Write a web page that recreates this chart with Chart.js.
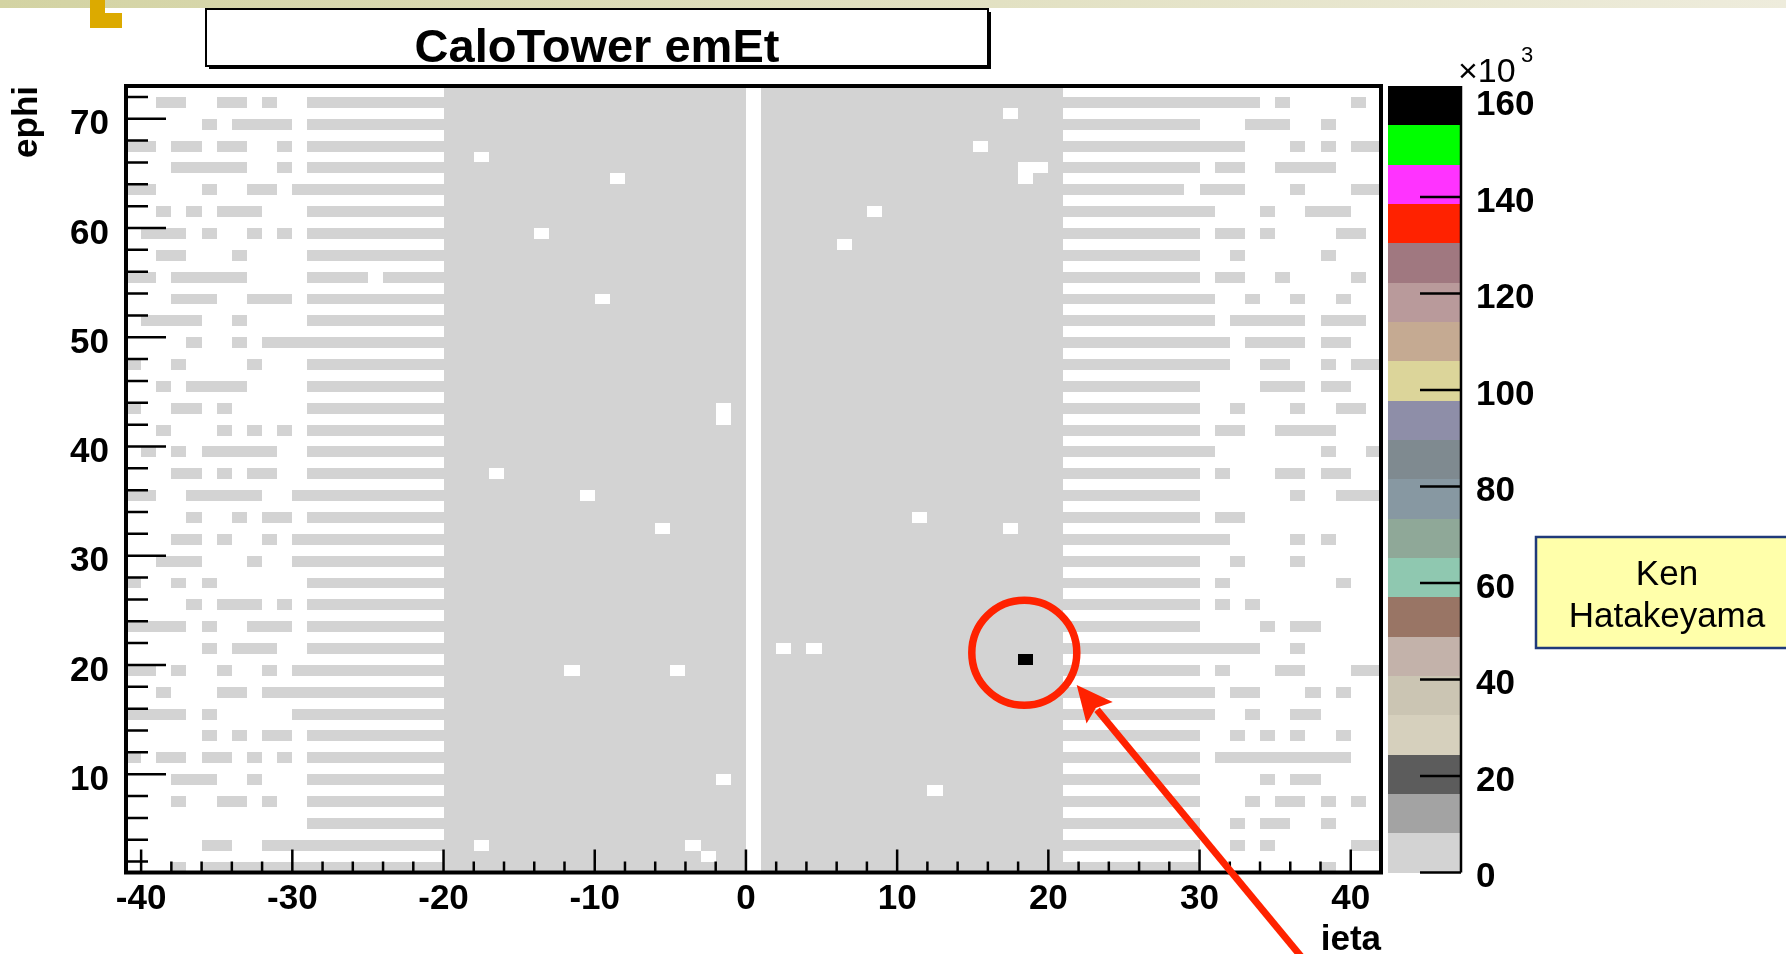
<!DOCTYPE html>
<html>
<head>
<meta charset="utf-8">
<script src="https://cdn.jsdelivr.net/npm/chart.js@4.4.0/dist/chart.umd.min.js"></script>
<style>
  html, body { margin: 0; padding: 0; background: #fff; overflow: hidden; }
  #wrap { width: 1786px; height: 954px; }
</style>
</head>
<body>
<div id="wrap"><canvas id="calo" width="1786" height="954"></canvas></div>
<script>
// axis ticks
const xTicks = [-40, -30, -20, -10, 0, 10, 20, 30, 40];
const yTicks = [10, 20, 30, 40, 50, 60, 70];
const zTicks = [0, 20, 40, 60, 80, 100, 120, 140, 160];
const zMax = 163;        // x10^3, top of the palette (hottest tower)
const towerLevel = 2;    // x10^3, normal towers sit in the lowest colour band

// forward towers (|ieta| > 20) only live on odd ephi rows
const phiRows = [71, 69, 67, 65, 63, 61, 59, 57, 55, 53, 51, 49, 47, 45, 43, 41, 39, 37,
                 35, 33, 31, 29, 27, 25, 23, 21, 19, 17, 15, 13, 11, 9, 7, 5, 3, 1];

// filled ieta ranges per row, negative side
const minusRanges = [
  [[-39,-38],[-35,-34],[-32,-32],[-29,-21]],
  [[-36,-36],[-34,-31],[-29,-21]],
  [[-41,-40],[-38,-37],[-35,-34],[-31,-31],[-29,-21]],
  [[-38,-34],[-31,-31],[-29,-21]],
  [[-41,-40],[-36,-36],[-33,-32],[-30,-21]],
  [[-39,-39],[-37,-37],[-35,-33],[-29,-21]],
  [[-40,-38],[-36,-36],[-33,-33],[-31,-31],[-29,-21]],
  [[-39,-38],[-34,-34],[-29,-21]],
  [[-41,-40],[-38,-34],[-29,-26],[-24,-21]],
  [[-38,-36],[-33,-31],[-29,-21]],
  [[-40,-37],[-34,-34],[-29,-21]],
  [[-37,-37],[-34,-34],[-32,-21]],
  [[-41,-41],[-38,-38],[-33,-33],[-29,-21]],
  [[-39,-39],[-37,-34],[-29,-21]],
  [[-41,-41],[-38,-37],[-35,-35],[-29,-21]],
  [[-39,-39],[-35,-35],[-33,-33],[-31,-31],[-29,-21]],
  [[-40,-40],[-38,-38],[-36,-32],[-29,-21]],
  [[-38,-37],[-35,-35],[-33,-32],[-29,-21]],
  [[-41,-40],[-37,-33],[-30,-21]],
  [[-37,-37],[-34,-34],[-32,-31],[-29,-21]],
  [[-38,-37],[-35,-35],[-32,-32],[-30,-21]],
  [[-39,-37],[-33,-33],[-30,-21]],
  [[-41,-41],[-38,-38],[-36,-36],[-29,-21]],
  [[-37,-37],[-35,-33],[-31,-31],[-29,-21]],
  [[-41,-38],[-36,-36],[-33,-31],[-29,-21]],
  [[-36,-36],[-34,-32],[-29,-21]],
  [[-41,-40],[-38,-38],[-35,-35],[-32,-32],[-30,-21]],
  [[-39,-39],[-35,-34],[-32,-21]],
  [[-41,-38],[-36,-36],[-30,-21]],
  [[-36,-36],[-34,-34],[-32,-31],[-29,-21]],
  [[-41,-41],[-39,-38],[-36,-35],[-33,-33],[-31,-31],[-29,-21]],
  [[-38,-36],[-33,-33],[-29,-21]],
  [[-38,-38],[-35,-34],[-32,-32],[-29,-21]],
  [[-29,-21]],
  [[-36,-35],[-32,-21]],
  [[-38,-38],[-36,-21]]
];

// filled ieta ranges per row, positive side
const plusRanges = [
  [[21,33],[35,35],[40,40]],
  [[21,29],[33,35],[38,38]],
  [[21,32],[36,36],[38,38],[40,41]],
  [[21,29],[31,32],[35,38]],
  [[21,28],[30,32],[36,36],[40,41]],
  [[21,30],[34,34],[37,39]],
  [[21,29],[31,32],[34,34],[39,40]],
  [[21,29],[32,32],[38,38]],
  [[21,29],[31,32],[35,35],[40,40]],
  [[21,30],[33,33],[36,36],[39,39]],
  [[21,30],[32,36],[38,40]],
  [[21,31],[33,36],[38,39]],
  [[21,31],[34,35],[38,38],[40,41]],
  [[21,29],[34,36],[38,39]],
  [[21,29],[32,32],[36,36],[39,40]],
  [[21,29],[31,32],[35,38]],
  [[21,30],[38,38],[41,41]],
  [[21,29],[31,31],[35,36],[38,39]],
  [[21,29],[36,36],[39,41]],
  [[21,29],[31,32]],
  [[21,31],[36,36],[38,38]],
  [[21,29],[32,32],[36,36]],
  [[21,29],[31,31],[39,39]],
  [[21,29],[31,31],[33,33]],
  [[21,29],[34,34],[36,37]],
  [[21,33],[36,36]],
  [[21,29],[31,31],[35,36],[40,41]],
  [[21,30],[32,33],[37,37],[39,39]],
  [[21,30],[33,33],[36,37]],
  [[21,29],[32,32],[34,34],[36,36],[39,39]],
  [[21,29],[31,39]],
  [[21,29],[34,34],[36,37]],
  [[21,29],[33,33],[35,36],[38,38],[40,40]],
  [[21,29],[32,32],[34,35],[38,38]],
  [[21,29],[32,32],[34,34],[40,41]],
  [[21,29],[38,38]]
];

// barrel/endcap (|ieta| <= 20): every tower filled except these [ieta, ephi]
const centralEmpty = [
  [-18,66],[-9,64],[-14,59],[-10,53],[-2,43],[-2,42],[-17,37],[-11,35],[-6,32],
  [-12,19],[-5,19],[-2,9],[-18,3],[-4,3],[-3,2],
  [17,70],[15,67],[18,65],[19,65],[18,64],[8,61],[6,58],[11,33],[17,32],
  [2,21],[4,21],[12,8]
];

// [ieta, ephi, emEt x10^3]
const hotTowers = [[18, 20, 163]];

// ROOT palette, lowest band first
const palette = [
  '#d3d3d3', '#a3a3a3', '#5c5c5c', '#d6d0bd', '#cbc5b3', '#c3b2aa', '#997565',
  '#8fc8b0', '#8fa898', '#8798a2', '#7f8a90', '#8e8ea8', '#dcd59a', '#c5aa92',
  '#b99a9b', '#a07880', '#ff2200', '#ff33ff', '#00ff00', '#000000'
];

const cells = [];
phiRows.forEach((phi, i) => {
  [...minusRanges[i], ...plusRanges[i]].forEach(([a, b]) => {
    for (let e = a; e <= b; e++) cells.push({ x: e, y: phi, v: towerLevel });
  });
});
const emptyKeys = new Set(centralEmpty.map(c => c[0] + ':' + c[1]));
for (let phi = 1; phi <= 72; phi++) {
  for (let e = -20; e <= 20; e++) {
    if (e === 0 || emptyKeys.has(e + ':' + phi)) continue;
    const hot = hotTowers.find(h => h[0] === e && h[1] === phi);
    cells.push({ x: e, y: phi, v: hot ? hot[2] : towerLevel });
  }
}

const FONT = '"Liberation Sans", Arial, Helvetica, sans-serif';
const RED = '#ff2200';

function setTicks(list) {
  return s => { s.ticks = list.map(v => ({ value: v })); };
}
// fixed box sizes, no label overhang padding
function fixSize(w, h) {
  return s => {
    if (w !== null) s.width = w;
    if (h !== null) s.height = h;
    s.paddingTop = 0; s.paddingBottom = 0; s.paddingLeft = 0; s.paddingRight = 0;
  };
}

const slidePlugin = {
  id: 'slide',
  beforeDraw(chart) {
    const ctx = chart.ctx;
    ctx.save();
    ctx.fillStyle = '#fff';
    ctx.fillRect(0, 0, chart.width, chart.height);
    const g = ctx.createLinearGradient(0, 0, chart.width, 0);
    g.addColorStop(0, '#d3d3a3');
    g.addColorStop(1, '#eeecdc');
    ctx.fillStyle = g;
    ctx.fillRect(0, 0, chart.width, 8);
    ctx.fillStyle = '#dcaa00';
    ctx.fillRect(90, 0, 15, 14);
    ctx.fillRect(90, 13, 32, 15);
    ctx.restore();
  }
};

const cellPlugin = {
  id: 'cells',
  beforeDatasetsDraw(chart) {
    const { ctx, chartArea: a, scales: { x, y } } = chart;
    const band = zMax / palette.length;
    ctx.save();
    ctx.beginPath();
    ctx.rect(a.left, a.top, a.right - a.left, a.bottom - a.top);
    ctx.clip();
    chart.data.datasets[0].data.forEach(c => {
      const x0 = Math.round(x.getPixelForValue(c.x));
      const x1 = Math.round(x.getPixelForValue(c.x + 1));
      const y0 = Math.round(y.getPixelForValue(c.y + 1));
      const y1 = Math.round(y.getPixelForValue(c.y));
      ctx.fillStyle = palette[Math.min(palette.length - 1, Math.floor(c.v / band))];
      ctx.fillRect(x0, y0, x1 - x0, y1 - y0);
    });
    ctx.restore();
  }
};

const framePlugin = {
  id: 'frame',
  afterDatasetsDraw(chart) {
    const { ctx, chartArea: a, scales: { x, y, z } } = chart;
    ctx.save();
    ctx.strokeStyle = '#000';
    ctx.lineWidth = 2.5;
    ctx.beginPath();
    for (let v = -40; v <= 40; v += 2) {
      const px = x.getPixelForValue(v);
      const len = v % 10 === 0 ? 23 : 11;
      ctx.moveTo(px, a.bottom); ctx.lineTo(px, a.bottom - len);
    }
    for (let v = 2; v <= 72; v += 2) {
      const py = y.getPixelForValue(v);
      const len = v % 10 === 0 ? 40 : 22;
      ctx.moveTo(a.left, py); ctx.lineTo(a.left + len, py);
    }
    ctx.stroke();
    ctx.lineWidth = 4;
    ctx.strokeRect(a.left, a.top, a.right - a.left, a.bottom - a.top);

    // palette
    const cbL = 1388, cbR = 1461;
    const band = zMax / palette.length;
    palette.forEach((col, i) => {
      const yb = Math.round(z.getPixelForValue(i * band));
      const yt = Math.round(z.getPixelForValue((i + 1) * band));
      ctx.fillStyle = col;
      ctx.fillRect(cbL, yt, cbR - cbL, yb - yt);
    });
    ctx.lineWidth = 2.5;
    ctx.beginPath();
    ctx.moveTo(cbR, z.getPixelForValue(zMax));
    ctx.lineTo(cbR, z.getPixelForValue(0));
    zTicks.forEach(v => {
      const py = z.getPixelForValue(v);
      ctx.moveTo(cbR, py); ctx.lineTo(cbR - 41, py);
    });
    ctx.stroke();
    ctx.restore();
  },
  afterDraw(chart) {
    const ctx = chart.ctx;
    ctx.save();
    // x10^3
    ctx.fillStyle = '#000';
    ctx.textBaseline = 'alphabetic';
    ctx.textAlign = 'left';
    ctx.font = '34px ' + FONT;
    ctx.fillText('\u00d710', 1458, 82);
    ctx.font = '22px ' + FONT;
    ctx.fillText('3', 1521, 62);

    // title box
    ctx.fillStyle = '#000';
    ctx.fillRect(209, 12, 782, 57);
    ctx.fillStyle = '#fff';
    ctx.fillRect(206, 9, 782, 57);
    ctx.strokeStyle = '#000';
    ctx.lineWidth = 2;
    ctx.strokeRect(206, 9, 782, 57);
    ctx.fillStyle = '#000';
    ctx.font = 'bold 47px ' + FONT;
    ctx.textAlign = 'center';
    ctx.fillText('CaloTower emEt', 597, 62);

    // name box
    ctx.fillStyle = '#ffffaa';
    ctx.fillRect(1536, 537, 260, 111);
    ctx.strokeStyle = '#1f3a7a';
    ctx.lineWidth = 2.5;
    ctx.strokeRect(1536, 537, 260, 111);
    ctx.fillStyle = '#000';
    ctx.font = '35px ' + FONT;
    ctx.fillText('Ken', 1667, 585);
    ctx.fillText('Hatakeyama', 1667, 627);

    // hot tower marker
    ctx.strokeStyle = RED;
    ctx.lineWidth = 7.5;
    ctx.beginPath();
    ctx.arc(1024.3, 652.8, 52.5, 0, Math.PI * 2);
    ctx.stroke();

    // arrow
    const tip = [1076.7, 685], tail = [1304, 960];
    const dx = tip[0] - tail[0], dy = tip[1] - tail[1];
    const L = Math.hypot(dx, dy), ux = dx / L, uy = dy / L;
    const hl = 36, hw = 17;
    const bx = tip[0] - ux * hl, by = tip[1] - uy * hl;
    ctx.lineWidth = 7;
    ctx.beginPath();
    ctx.moveTo(tail[0], tail[1]);
    ctx.lineTo(bx + ux * 4, by + uy * 4);
    ctx.stroke();
    ctx.fillStyle = RED;
    ctx.beginPath();
    ctx.moveTo(tip[0], tip[1]);
    ctx.lineTo(bx - uy * hw, by + ux * hw);
    ctx.lineTo(bx + ux * 6, by + uy * 6);
    ctx.lineTo(bx + uy * hw, by - ux * hw);
    ctx.closePath();
    ctx.fill();
    ctx.restore();
  }
};

const tickFont = { family: FONT, size: 35, weight: 'bold' };

new Chart(document.getElementById('calo'), {
  type: 'scatter',
  data: {
    datasets: [{ label: 'emEt', data: cells, pointRadius: 0, pointHoverRadius: 0 }]
  },
  options: {
    responsive: false,
    animation: false,
    events: [],
    layout: { padding: { top: 86, left: 0, right: 0, bottom: 0 } },
    plugins: { legend: { display: false }, tooltip: { enabled: false } },
    scales: {
      x: {
        type: 'linear', position: 'bottom', min: -41, max: 42,
        grid: { display: false }, border: { display: false },
        afterBuildTicks: setTicks(xTicks),
        afterFit: fixSize(null, 81.5),
        ticks: { font: tickFont, color: '#000', padding: -2.5, autoSkip: false, maxRotation: 0,
                 callback: v => String(v) },
        title: { display: true, text: 'ieta', align: 'end', color: '#000',
                 font: { family: FONT, size: 35, weight: 'bold', lineHeight: 0.8 }, padding: 0 }
      },
      y: {
        type: 'linear', position: 'left', min: 1, max: 73,
        grid: { display: false }, border: { display: false },
        afterBuildTicks: setTicks(yTicks),
        afterFit: fixSize(126, null),
        ticks: { font: tickFont, color: '#000', padding: 9, labelOffset: 6, autoSkip: false,
                 callback: v => String(v) },
        title: { display: true, text: 'ephi', align: 'end', color: '#000',
                 font: { family: FONT, size: 35, weight: 'bold' }, padding: { top: 6, bottom: 0 } }
      },
      z: {
        type: 'linear', axis: 'y', position: 'right', min: 0, max: zMax,
        grid: { display: false }, border: { display: false },
        afterBuildTicks: setTicks(zTicks),
        afterFit: fixSize(405, null),
        ticks: { font: tickFont, color: '#000', padding: 87, labelOffset: 5, autoSkip: false,
                 callback: v => String(v) }
      }
    }
  },
  plugins: [slidePlugin, cellPlugin, framePlugin]
});
</script>
</body>
</html>
